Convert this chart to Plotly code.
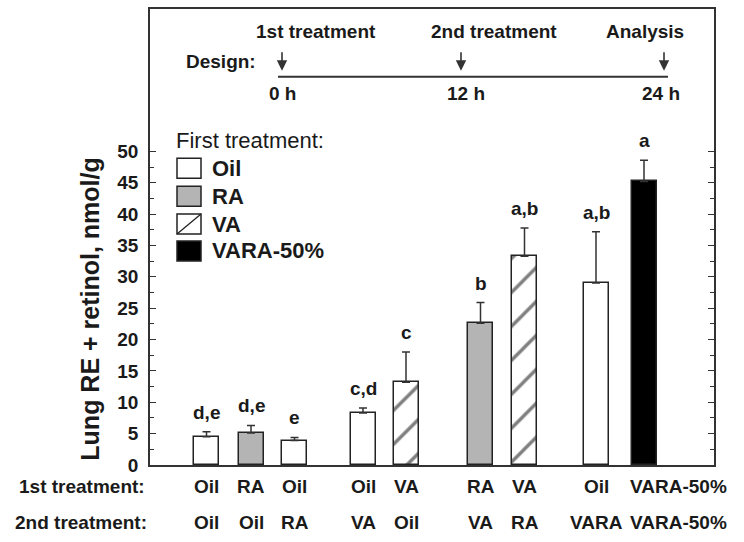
import plotly.graph_objects as go

# ---------------- data ----------------
first_treatment = ["Oil", "RA", "Oil", "Oil", "VA", "RA", "VA", "Oil", "VARA-50%"]
second_treatment = ["Oil", "Oil", "RA", "VA", "Oil", "VA", "RA", "VARA", "VARA-50%"]
values = [4.5, 5.1, 3.9, 8.3, 13.2, 22.6, 33.3, 29.0, 45.2]
errors = [0.8, 1.2, 0.5, 0.8, 4.8, 3.3, 4.5, 8.2, 3.4]
letters = ["d,e", "d,e", "e", "c,d", "c", "b", "a,b", "a,b", "a"]
legend_items = ["Oil", "RA", "VA", "VARA-50%"]
y_ticks = [0, 5, 10, 15, 20, 25, 30, 35, 40, 45, 50]
y_minor = [2.5, 7.5, 12.5, 17.5, 22.5, 27.5, 32.5, 37.5, 42.5, 47.5]
design_steps = ["1st treatment", "2nd treatment", "Analysis"]
design_times = ["0 h", "12 h", "24 h"]

# ---------------- layout helpers (pixel geometry) ----------------
W, H = 744, 542
L, R, T, B = 150, 714, 7, 465          # plot frame in pixels
PX_PER_UNIT = 6.3
YMAX = (B - T) / PX_PER_UNIT
bar_px = [206.5, 251, 294.5, 363, 406, 480.5, 524.5, 596, 644]
BAR_W = 25
ROW1_Y, ROW2_Y = 487, 523


def X(px):
    return px - L


def Y(py):
    return (B - py) / PX_PER_UNIT


def PXp(px):
    return (px - L) / (R - L)


def PYp(py):
    return (B - py) / (B - T)


FONT = "Liberation Sans, Arial, Helvetica, sans-serif"
INK = "#1a1a1a"

styles = {
    "Oil": dict(color="white", shape=""),
    "RA": dict(color="#b4b4b4", shape=""),
    "VA": dict(color="white", shape="/"),
    "VARA-50%": dict(color="#000000", shape=""),
}

fig = go.Figure()
for kind in legend_items:
    idx = [i for i, f in enumerate(first_treatment) if f == kind]
    st = styles[kind]
    fig.add_trace(go.Bar(
        x=[X(bar_px[i]) for i in idx],
        y=[values[i] for i in idx],
        width=BAR_W,
        name=kind,
        showlegend=False,
        marker=dict(
            color=st["color"],
            line=dict(color="#222222", width=1.5),
            pattern=dict(shape=st["shape"], fgcolor="#000000", bgcolor="white",
                         size=24, solidity=0.14),
        ),
        error_y=dict(type="data", symmetric=False,
                     array=[errors[i] for i in idx],
                     arrayminus=[0] * len(idx),
                     color="#333333", thickness=1.5, width=4),
    ))

ann = []
# significance letters
for i, lab in enumerate(letters):
    ann.append(dict(x=X(bar_px[i]), y=values[i] + errors[i], xref="x", yref="y",
                    text=f"<b>{lab}</b>", showarrow=False, xanchor="center", yanchor="bottom",
                    yshift=7, font=dict(size=19, family=FONT, color=INK)))

# treatment rows below axis (paper coordinates, outside the plot area)
ann.append(dict(x=PXp(147), y=PYp(ROW1_Y), xref="paper", yref="paper", text="<b>1st treatment:</b>",
                showarrow=False, xanchor="right", yanchor="middle",
                font=dict(size=19, family=FONT, color=INK)))
ann.append(dict(x=PXp(149), y=PYp(ROW2_Y), xref="paper", yref="paper", text="<b>2nd treatment:</b>",
                showarrow=False, xanchor="right", yanchor="middle",
                font=dict(size=19, family=FONT, color=INK)))
for i in range(len(values)):
    for row_y, labs in ((ROW1_Y, first_treatment), (ROW2_Y, second_treatment)):
        txt = labs[i]
        if txt == "VARA-50%":
            ann.append(dict(x=PXp(bar_px[i] - 16), y=PYp(row_y), xref="paper", yref="paper",
                            text=f"<b>{txt}</b>", showarrow=False, xanchor="left",
                            yanchor="middle", font=dict(size=19, family=FONT, color=INK)))
        else:
            ann.append(dict(x=PXp(bar_px[i]), y=PYp(row_y), xref="paper", yref="paper",
                            text=f"<b>{txt}</b>", showarrow=False, xanchor="center",
                            yanchor="middle", font=dict(size=19, family=FONT, color=INK)))

# y-axis title
ann.append(dict(x=PXp(90), y=PYp(309), xref="paper", yref="paper",
                text="<b>Lung RE + retinol, nmol/g</b>", xanchor="center", yanchor="middle",
                textangle=-90, showarrow=False, font=dict(size=25, family=FONT, color=INK)))

# design panel
step_x = [316, 494, 645]
arrow_x = [282, 461, 664]
time_x = [282, 466, 661]
DFS = 19
ann.append(dict(x=X(258), y=Y(60), xref="x", yref="y", text="<b>Design:</b>",
                showarrow=False, xanchor="right", yanchor="middle",
                font=dict(size=DFS, family=FONT, color=INK)))
for sx, ax_, tx, s, t in zip(step_x, arrow_x, time_x, design_steps, design_times):
    ann.append(dict(x=X(sx), y=Y(30), xref="x", yref="y", text=f"<b>{s}</b>",
                    showarrow=False, xanchor="center", yanchor="middle",
                    font=dict(size=DFS, family=FONT, color=INK)))
    ann.append(dict(x=X(tx), y=Y(92), xref="x", yref="y", text=f"<b>{t}</b>",
                    showarrow=False, xanchor="center", yanchor="middle",
                    font=dict(size=DFS, family=FONT, color=INK)))
    ann.append(dict(x=X(ax_), y=Y(69), xref="x", yref="y", text="", showarrow=True,
                    axref="pixel", ayref="pixel", ax=0, ay=-20,
                    arrowhead=2, arrowsize=1.3, arrowwidth=1.6, arrowcolor="#333333"))

shapes = [dict(type="line", xref="x", yref="y", x0=X(278), x1=X(668), y0=Y(75), y1=Y(75),
               line=dict(color="#333333", width=2))]

# manual legend
ann.append(dict(x=X(174), y=Y(139), xref="x", yref="y", text="First treatment:",
                showarrow=False, xanchor="left", yanchor="middle",
                font=dict(size=22, family=FONT, color=INK)))
leg_top = [157, 185, 213, 240]
for kind, top in zip(legend_items, leg_top):
    st = styles[kind]
    shapes.append(dict(type="rect", xref="x", yref="y", x0=X(177), x1=X(201),
                       y0=Y(top + 20), y1=Y(top), fillcolor=st["color"],
                       line=dict(color="#222222", width=1.5)))
    if st["shape"] == "/":
        shapes.append(dict(type="line", xref="x", yref="y", x0=X(177), x1=X(201),
                           y0=Y(top + 20), y1=Y(top), line=dict(color="#222222", width=1.3)))
    ann.append(dict(x=X(210), y=Y(top + 10), xref="x", yref="y", text=f"<b>{kind}</b>",
                    showarrow=False, xanchor="left", yanchor="middle",
                    font=dict(size=22, family=FONT, color=INK)))

fig.update_layout(
    width=W, height=H, autosize=False,
    margin=dict(l=L, r=W - R, t=T, b=H - B, pad=0),
    paper_bgcolor="white", plot_bgcolor="white",
    bargap=0, showlegend=False,
    annotations=ann, shapes=shapes,
    xaxis=dict(range=[0, R - L], showgrid=False, zeroline=False, showticklabels=False,
               ticks="", showline=True, mirror=True, linecolor="#333333", linewidth=1.5,
               fixedrange=True),
    yaxis=dict(range=[0, YMAX], showgrid=False, zeroline=False,
               tickmode="array", tickvals=y_ticks, ticktext=[f"<b>{v}</b>" for v in y_ticks],
               ticks="inside", ticklen=6, tickwidth=1.3, tickcolor="#333333",
               showline=True, mirror="ticks", linecolor="#333333", linewidth=1.5,
               ticklabelstandoff=6,
               tickfont=dict(size=19, family=FONT, color=INK),
               minor=dict(tickvals=y_minor, ticks="inside", ticklen=4, tickwidth=1.2,
                          tickcolor="#333333"),
               fixedrange=True),
)

fig.write_html("out.html", config={"displayModeBar": False},
               post_script="document.body.style.margin='0px';document.body.style.padding='0px';")
